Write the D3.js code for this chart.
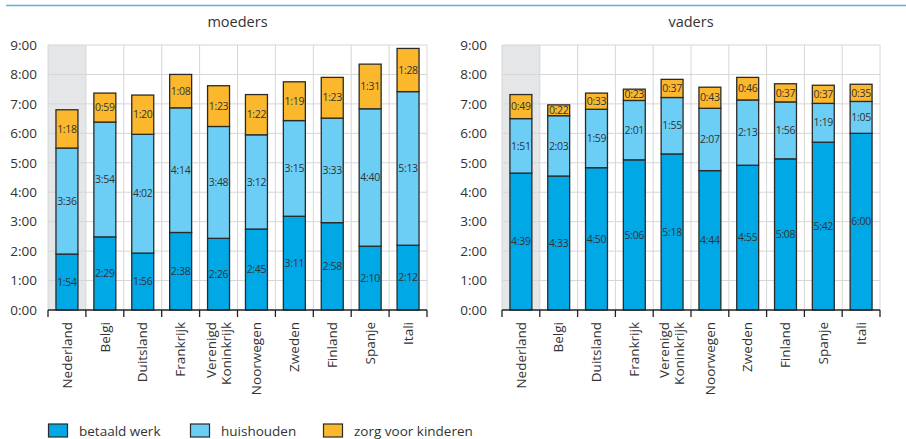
<!DOCTYPE html>
<html><head><meta charset="utf-8">
<script src="https://cdn.jsdelivr.net/npm/d3@7"></script>
<style>
body{margin:0;background:#fff;}
text{font-family:"Open Sans",sans-serif;fill:#333;}
</style></head>
<body><svg id="c" width="906" height="439"></svg>
<script>
const categories = ["Nederland","Belgi","Duitsland","Frankrijk","Verenigd\nKoninkrijk","Noorwegen","Zweden","Finland","Spanje","Itali"];
const seriesNames = ["betaald werk","huishouden","zorg voor kinderen"];
const colors = ["#00a8e6","#6dcef5","#fbb82c"];
const yTicks = ["0:00","1:00","2:00","3:00","4:00","5:00","6:00","7:00","8:00","9:00"];
const moedersBetaald = ["1:54","2:29","1:56","2:38","2:26","2:45","3:11","2:58","2:10","2:12"];
const moedersHuis    = ["3:36","3:54","4:02","4:14","3:48","3:12","3:15","3:33","4:40","5:13"];
const moedersZorg    = ["1:18","0:59","1:20","1:08","1:23","1:22","1:19","1:23","1:31","1:28"];
const vadersBetaald  = ["4:39","4:33","4:50","5:06","5:18","4:44","4:55","5:08","5:42","6:00"];
const vadersHuis     = ["1:51","2:03","1:59","2:01","1:55","2:07","2:13","1:56","1:19","1:05"];
const vadersZorg     = ["0:49","0:22","0:33","0:23","0:37","0:43","0:46","0:37","0:37","0:35"];

const toH = s => { const [h,m] = s.split(":").map(Number); return h + m/60; };
const svg = d3.select("#c");

// top rule
svg.append("line").attr("x1",6).attr("x2",906).attr("y1",5.5).attr("y2",5.5)
  .attr("stroke","#5aaee0").attr("stroke-width",1.6);

const y = d3.scaleLinear().domain([0,9]).range([310,45]);

function panel(title, x0, x1, labelX, series){
  const g = svg.append("g");
  const x = d3.scaleBand().domain(categories).range([x0,x1]).paddingInner(0.42).paddingOuter(0.21);
  const step = x.step();
  const colLeft = d => x(d) - step*0.21;
  // shaded first column
  g.append("rect").attr("x",colLeft(categories[0])).attr("y",y(9)).attr("width",step).attr("height",y(0)-y(9)).attr("fill","#e5e6e8");
  // horizontal grid
  g.selectAll(".hg").data(yTicks.slice(1)).join("line")
    .attr("x1",x0).attr("x2",x1).attr("y1",d=>y(toH(d))).attr("y2",d=>y(toH(d)))
    .attr("stroke","#d6d6d6").attr("stroke-width",1);
  // vertical grid
  const bounds = categories.map(colLeft).concat([x1]);
  g.selectAll(".vg").data(bounds).join("line")
    .attr("x1",d=>d).attr("x2",d=>d).attr("y1",y(9)).attr("y2",y(0))
    .attr("stroke","#d6d6d6").attr("stroke-width",1);
  // y labels
  g.selectAll(".yl").data(yTicks).join("text")
    .attr("x",labelX).attr("y",d=>y(toH(d))).attr("dy","0.35em").attr("text-anchor","end")
    .attr("font-size",13.5).text(d=>d);
  // title
  g.append("text").attr("x",(x0+x1)/2).attr("y",27).attr("text-anchor","middle").attr("font-size",14.5).text(title);
  // stacks
  const rows = categories.map((c,i)=>{ const o={cat:c}; series.forEach((s,k)=>o["s"+k]=toH(s[i])); o.lab=series.map(s=>s[i]); return o;});
  const stack = d3.stack().keys(["s0","s1","s2"])(rows);
  stack.forEach((layer,k)=>{
    const lg = g.append("g");
    lg.selectAll("rect").data(layer).join("rect")
      .attr("x",d=>x(d.data.cat)).attr("width",x.bandwidth())
      .attr("y",d=>y(d[1])).attr("height",d=>y(d[0])-y(d[1]))
      .attr("fill",colors[k]).attr("stroke","#2a2a2a").attr("stroke-width",1.3);
    lg.selectAll("text").data(layer).join("text")
      .attr("x",d=>x(d.data.cat)+x.bandwidth()/2).attr("y",d=>(y(d[0])+y(d[1]))/2)
      .attr("dy","0.35em").attr("text-anchor","middle").attr("font-size",10.5)
      .attr("letter-spacing",-0.3).attr("fill","#333").text(d=>d.data.lab[k]);
  });
  // bottom axis
  g.append("line").attr("x1",x0).attr("x2",x1).attr("y1",310).attr("y2",310).attr("stroke","#222").attr("stroke-width",1.3);
  g.selectAll(".tk").data(bounds).join("line")
    .attr("x1",d=>d).attr("x2",d=>d).attr("y1",310).attr("y2",317).attr("stroke","#222").attr("stroke-width",1.3);
  // category labels
  categories.forEach(c=>{
    const lines = c.split("\n");
    const cx = x(c)+x.bandwidth()/2;
    const t = g.append("text").attr("transform",`translate(${cx},322) rotate(-90)`)
      .attr("text-anchor","end").attr("font-size",13.5);
    lines.forEach((ln,i)=>{
      t.append("tspan").attr("x",0).attr("y",(i-(lines.length-1)/2)*15).attr("dy","0.35em").text(ln);
    });
  });
}

panel("moeders",48,427,37,[moedersBetaald,moedersHuis,moedersZorg]);
panel("vaders",502,880,487,[vadersBetaald,vadersHuis,vadersZorg]);

// legend
const legX = [48,190,323];
const lg = svg.append("g");
seriesNames.forEach((n,i)=>{
  lg.append("rect").attr("x",legX[i]+0.5).attr("y",424).attr("width",19).attr("height",13)
    .attr("fill",colors[i]).attr("stroke","#2a2a2a").attr("stroke-width",1.2);
  lg.append("text").attr("x",legX[i]+31).attr("y",431).attr("dy","0.35em").attr("font-size",13.5).text(n);
});
</script></body></html>
